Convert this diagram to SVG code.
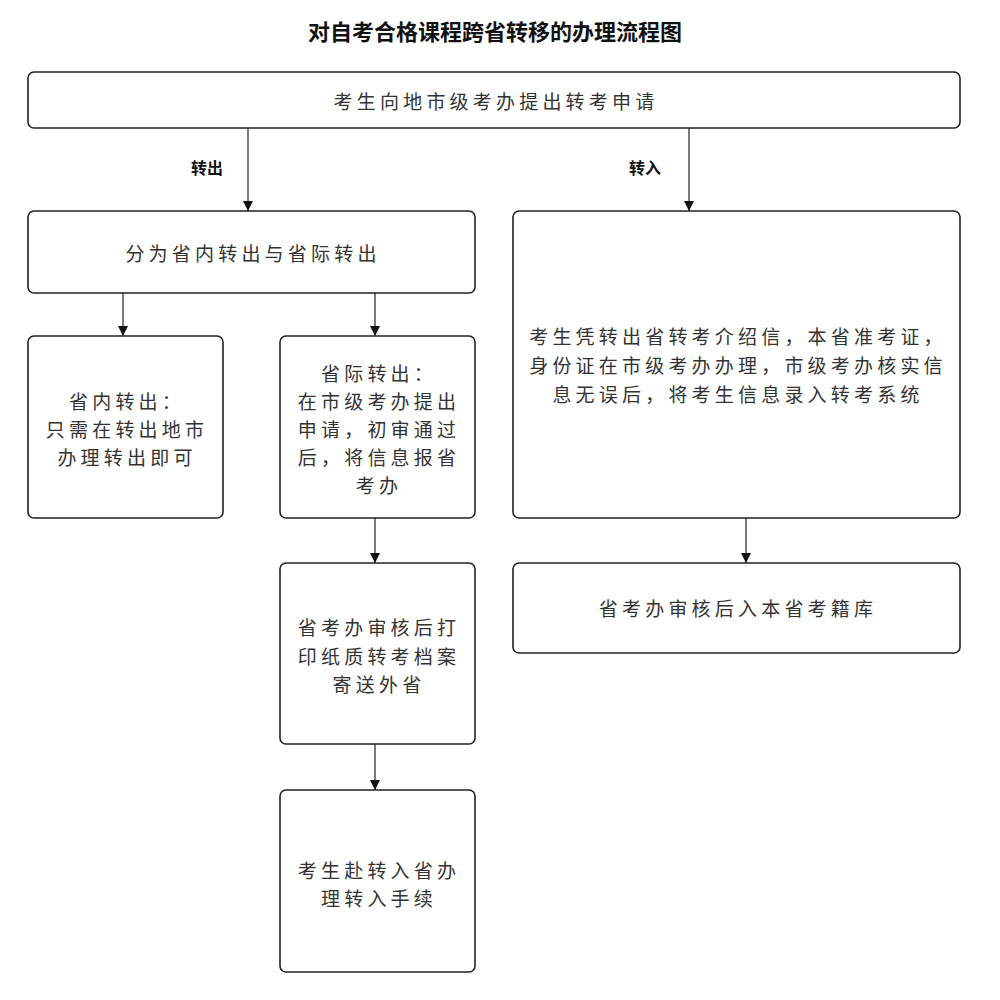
<svg xmlns="http://www.w3.org/2000/svg" width="1000" height="1000" viewBox="0 0 1000 1000">
<style>
.box{fill:#fff;stroke:#222;stroke-width:1.6}
.t{font-family:"Noto Sans CJK SC","Noto Sans CJK TC",sans-serif;font-size:19px;fill:#333;letter-spacing:4.2px;text-anchor:middle;dominant-baseline:central}
.lbl{font-family:"Noto Sans CJK SC",sans-serif;font-size:16px;font-weight:bold;fill:#111;text-anchor:middle;dominant-baseline:central}
.title{font-family:"Noto Sans CJK SC",sans-serif;font-size:22px;font-weight:bold;fill:#111;text-anchor:middle;dominant-baseline:central}
.c{stroke:#222;stroke-width:1.2;fill:none;marker-end:url(#ah)}
</style>
<defs>
<marker id="ah" markerWidth="10" markerHeight="10" refX="10" refY="5" orient="auto" markerUnits="userSpaceOnUse">
<path d="M0,0 L10,5 L0,10 Z" fill="#111"/>
</marker>
</defs>
<rect width="1000" height="1000" fill="#fff"/>
<text class="title" x="495" y="30">对自考合格课程跨省转移的办理流程图</text>

<g id="connectors">
<line class="c" x1="248" y1="128" x2="248" y2="211"/>
<line class="c" x1="689" y1="128" x2="689" y2="211"/>
<line class="c" x1="123" y1="293" x2="123" y2="336"/>
<line class="c" x1="375" y1="293" x2="375" y2="336"/>
<line class="c" x1="375" y1="518" x2="375" y2="563"/>
<line class="c" x1="375" y1="744" x2="375" y2="790"/>
<line class="c" x1="746" y1="518" x2="746" y2="563"/>
<text class="lbl" x="207" y="167">转出</text>
<text class="lbl" x="645" y="167">转入</text>
</g>

<g id="n_apply">
<rect class="box" x="28" y="72" width="932" height="56" rx="6"/>
<text class="t" x="496" y="100">考生向地市级考办提出转考申请</text>
</g>
<g id="n_split">
<rect class="box" x="28" y="211" width="447" height="82" rx="6"/>
<text class="t" x="253" y="252">分为省内转出与省际转出</text>
</g>
<g id="n_inprov">
<rect class="box" x="28" y="336" width="195" height="182" rx="6"/>
<text class="t" x="127" y="400">省内转出：</text>
<text class="t" x="127" y="428">只需在转出地市</text>
<text class="t" x="127" y="456">办理转出即可</text>
</g>
<g id="n_interprov">
<rect class="box" x="280" y="336" width="195" height="182" rx="6"/>
<text class="t" x="379" y="372">省际转出：</text>
<text class="t" x="379" y="400">在市级考办提出</text>
<text class="t" x="379" y="428">申请，初审通过</text>
<text class="t" x="379" y="456">后，将信息报省</text>
<text class="t" x="379" y="484">考办</text>
</g>
<g id="n_print">
<rect class="box" x="280" y="563" width="195" height="181" rx="6"/>
<text class="t" x="379" y="626">省考办审核后打</text>
<text class="t" x="379" y="655">印纸质转考档案</text>
<text class="t" x="379" y="683">寄送外省</text>
</g>
<g id="n_go">
<rect class="box" x="280" y="790" width="195" height="182" rx="6"/>
<text class="t" x="379" y="869">考生赴转入省办</text>
<text class="t" x="379" y="897">理转入手续</text>
</g>
<g id="n_transin">
<rect class="box" x="513" y="211" width="447" height="307" rx="6"/>
<text class="t" x="738" y="335">考生凭转出省转考介绍信，本省准考证，</text>
<text class="t" x="738" y="364">身份证在市级考办办理，市级考办核实信</text>
<text class="t" x="738" y="393">息无误后，将考生信息录入转考系统</text>
</g>
<g id="n_register">
<rect class="box" x="513" y="563" width="447" height="90" rx="6"/>
<text class="t" x="738" y="607">省考办审核后入本省考籍库</text>
</g>
</svg>
